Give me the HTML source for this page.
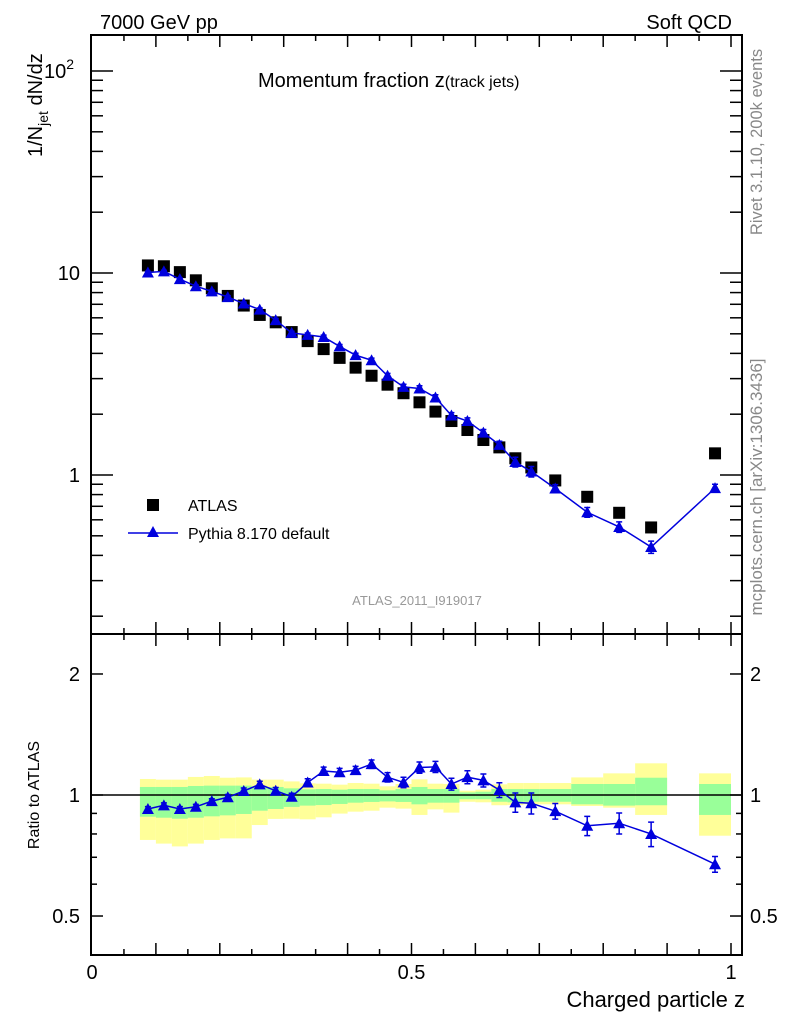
<!DOCTYPE html>
<html><head><meta charset="utf-8"><style>
body{margin:0;background:#fff;}
svg{display:block;font-family:"Liberation Sans",Arial,sans-serif;}
</style></head><body>
<svg id="chart" width="786" height="1024" xmlns="http://www.w3.org/2000/svg">
<text x="100" y="29" font-size="20">7000 GeV pp</text>
<text x="732" y="29" font-size="20" text-anchor="end">Soft QCD</text>
<text x="258" y="87" font-size="20">Momentum fraction z<tspan font-size="16">(track jets)</tspan></text>
<text transform="translate(42,157) rotate(-90)" font-size="20">1/N<tspan font-size="14" dy="6">jet</tspan><tspan dy="-6"> dN/dz</tspan></text>
<text transform="translate(39,795) rotate(-90)" font-size="16" text-anchor="middle">Ratio to ATLAS</text>
<text transform="translate(762,142) rotate(-90)" font-size="16.5" fill="#888" text-anchor="middle">Rivet 3.1.10,  200k events</text>
<text transform="translate(762,487) rotate(-90)" font-size="17" fill="#888" text-anchor="middle">mcplots.cern.ch [arXiv:1306.3436]</text>
<text x="417" y="605" font-size="13" fill="#999" text-anchor="middle">ATLAS_2011_I919017</text>
<text x="745" y="1007" font-size="22" text-anchor="end">Charged particle z</text>
<g>
<rect x="147" y="499" width="12" height="12" fill="#000"/>
<text x="188" y="511" font-size="16">ATLAS</text>
<line x1="128" y1="533" x2="178" y2="533" stroke="#0000dd" stroke-width="1.5"/>
<polygon points="153,526 159,537 147,537" fill="#0000dd"/>
<text x="188" y="539" font-size="16">Pythia 8.170 default</text>
</g>
<g id="marks"></g>
</svg>
<script>
const binLo = [0.075,0.1,0.125,0.15,0.175,0.2,0.225,0.25,0.275,0.3,0.325,0.35,0.375,0.4,0.425,0.45,0.475,0.5,0.525,0.55,0.575,0.6,0.625,0.65,0.675,0.7,0.75,0.8,0.85,0.95];
const binHi = [0.1,0.125,0.15,0.175,0.2,0.225,0.25,0.275,0.3,0.325,0.35,0.375,0.4,0.425,0.45,0.475,0.5,0.525,0.55,0.575,0.6,0.625,0.65,0.675,0.7,0.75,0.8,0.85,0.9,1.0];
const atlas = [10.9,10.8,10.1,9.2,8.4,7.7,6.9,6.2,5.7,5.1,4.6,4.2,3.8,3.4,3.1,2.8,2.54,2.29,2.06,1.85,1.67,1.49,1.37,1.21,1.09,0.94,0.78,0.65,0.55,1.28];
const pythia = [10.06,10.18,9.32,8.6,8.11,7.6,7.06,6.59,5.84,5.05,4.94,4.82,4.33,3.92,3.7,3.1,2.73,2.68,2.42,1.97,1.85,1.62,1.41,1.16,1.04,0.857,0.654,0.553,0.44,0.861];
const pythiaErr = [0.014,0.014,0.014,0.014,0.014,0.016,0.017,0.018,0.019,0.02,0.022,0.022,0.022,0.022,0.024,0.027,0.03,0.032,0.032,0.034,0.037,0.037,0.042,0.055,0.06,0.045,0.055,0.06,0.07,0.045];
const yellowHi = [1.096,1.092,1.092,1.109,1.115,1.104,1.106,1.092,1.092,1.081,1.069,1.067,1.061,1.071,1.067,1.051,1.065,1.094,1.067,1.065,1.025,1.031,1.063,1.071,1.071,1.071,1.106,1.132,1.199,1.132];
const yellowLo = [0.773,0.757,0.745,0.757,0.773,0.78,0.78,0.842,0.872,0.873,0.87,0.88,0.899,0.909,0.914,0.93,0.925,0.892,0.921,0.904,0.962,0.959,0.943,0.944,0.948,0.948,0.939,0.93,0.892,0.792];
const greenHi = [1.047,1.047,1.047,1.053,1.055,1.055,1.055,1.049,1.047,1.039,1.033,1.035,1.031,1.035,1.035,1.027,1.035,1.047,1.035,1.035,1.015,1.019,1.035,1.035,1.035,1.035,1.065,1.065,1.104,1.065];
const greenLo = [0.883,0.878,0.873,0.878,0.885,0.89,0.897,0.914,0.923,0.934,0.941,0.944,0.95,0.957,0.961,0.964,0.961,0.948,0.957,0.957,0.976,0.976,0.962,0.959,0.962,0.962,0.948,0.941,0.943,0.892];
const mainTicks = [{v:100,t:"10",sup:"2"},{v:10,t:"10"},{v:1,t:"1"}];
const ratioTicks = [{v:2,t:"2"},{v:1,t:"1"},{v:0.5,t:"0.5"}];
const xTicks = [{v:0,t:"0"},{v:0.5,t:"0.5"},{v:1,t:"1"}];

const NS="http://www.w3.org/2000/svg";
const L=91,R=742,T=35,MB=634,RB=955;
const X=z=>92+z*639;
const YM=v=>475-202*Math.log10(v);
const YR=r=>795-402*Math.log10(r);
const g=document.getElementById('marks');
function mk(tag,at,parent){const e=document.createElementNS(NS,tag);for(const k in at)e.setAttribute(k,at[k]);(parent||g).appendChild(e);return e;}

binLo.forEach((lo,i)=>{
  const yb=mk('rect',{x:X(lo),y:YR(yellowHi[i]),width:X(binHi[i])-X(lo),height:YR(yellowLo[i])-YR(yellowHi[i]),fill:'#ffff99'});
  
  
});
binLo.forEach((lo,i)=>{
  const gb=mk('rect',{x:X(lo),y:YR(greenHi[i]),width:X(binHi[i])-X(lo),height:YR(greenLo[i])-YR(greenHi[i]),fill:'#99ff99'});
  
  
});
const one=mk('line',{x1:L,x2:R,y1:YR(1),y2:YR(1),stroke:'#000','stroke-width':1.5});



const f1=mk('rect',{x:L,y:T,width:R-L,height:MB-T,fill:'none',stroke:'#000','stroke-width':2});


const f2=mk('rect',{x:L,y:MB,width:R-L,height:RB-MB,fill:'none',stroke:'#000','stroke-width':2});



for(let k=1;k<=20;k++){const z=k*0.05;const len=(k%2===0)?12:6;const x=X(z);
  [[MB,1],[T,1],[RB,-1],[MB,-1]].forEach(([y0,d])=>{
    const t=mk('line',{x1:x,x2:x,y1:y0,y2:y0+d*len,stroke:'#000','stroke-width':1.5});
    
    });
}
xTicks.forEach(o=>{const t=mk('text',{x:X(o.v),y:979,'font-size':20,'text-anchor':'middle'});t.textContent=o.t;
  
  });

for(let d=-1;d<=2;d++){for(let m=1;m<=9;m++){const v=m*Math.pow(10,d);const y=YM(v);if(y<T||y>MB)continue;const len=m===1?22:12;
  [[L,1],[R,-1]].forEach(([x0,s])=>{const t=mk('line',{x1:x0,x2:x0+s*len,y1:y,y2:y,stroke:'#000','stroke-width':1.5});
    
    });}}
mainTicks.forEach(o=>{const t=mk('text',{x:o.sup?74:80,y:YM(o.v)+7,'font-size':20,'text-anchor':'end'});t.textContent=o.t;
  if(o.sup){const s=mk('tspan',{dy:-9,'font-size':14},t);s.textContent=o.sup;}
  
  });

for(let d=-1;d<=0;d++){for(let m=1;m<=9;m++){const v=m*Math.pow(10,d);const y=YR(v);if(y<=MB||y>=RB)continue;const len=(v===0.5||v===1||v===2)?12:6;
  [[L,1],[R,-1]].forEach(([x0,s])=>{const t=mk('line',{x1:x0,x2:x0+s*len,y1:y,y2:y,stroke:'#000','stroke-width':1.5});
    
    });}}
ratioTicks.forEach(o=>{
  const t=mk('text',{x:80,y:YR(o.v)+7,'font-size':20,'text-anchor':'end'});t.textContent=o.t;
  
  
  const t2=mk('text',{x:750,y:YR(o.v)+7,'font-size':20});t2.textContent=o.t;
  
  });

const cx=i=>X((binLo[i]+binHi[i])/2);
atlas.forEach((v,i)=>{const s=mk('rect',{x:cx(i)-6,y:YM(v)-6,width:12,height:12,fill:'#000'});
  
  });
const pm=mk('polyline',{points:pythia.map((v,i)=>cx(i)+','+YM(v)).join(' '),fill:'none',stroke:'#0000dd','stroke-width':1.5});


function tri(x,y,name){const p=mk('polygon',{points:`${x},${y-6} ${x+6},${y+5} ${x-6},${y+5}`,fill:'#0000dd'});
  
  }
function err(x,y1,y2,name){const e=mk('path',{d:`M${x},${y1}V${y2}M${x-3},${y1}h6M${x-3},${y2}h6`,stroke:'#0000dd','stroke-width':1.5,fill:'none'});
  
  }
pythia.forEach((v,i)=>{err(cx(i),YM(v*(1+pythiaErr[i])),YM(v*(1-pythiaErr[i])),'pythia-error-bar');tri(cx(i),YM(v),'pythia-point');});
const ratio=pythia.map((v,i)=>v/atlas[i]);
const pr=mk('polyline',{points:ratio.map((r,i)=>cx(i)+','+YR(r)).join(' '),fill:'none',stroke:'#0000dd','stroke-width':1.5});


ratio.forEach((r,i)=>{err(cx(i),YR(r*(1+pythiaErr[i])),YR(r*(1-pythiaErr[i])),'ratio-error-bar');tri(cx(i),YR(r),'ratio-point');});
</script>
</body></html>
